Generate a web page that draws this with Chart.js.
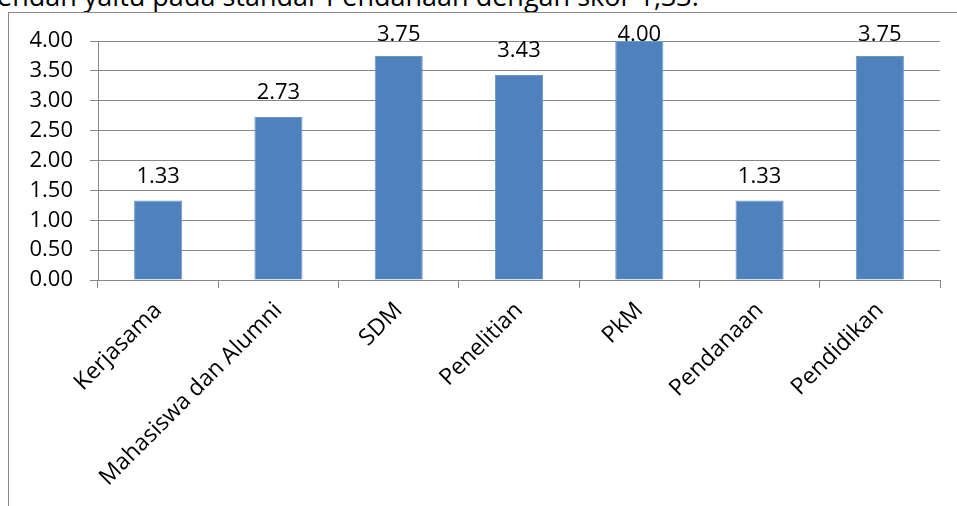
<!DOCTYPE html>
<html>
<head>
<meta charset="utf-8">
<script src="https://cdn.jsdelivr.net/npm/chart.js@4/dist/chart.umd.min.js"></script>
<style>
  html, body { margin: 0; padding: 0; background: #fff; overflow: hidden; }
  body { width: 957px; height: 506px; position: relative; }
  #caption {
    position: absolute; left: -3px; top: -22px; white-space: nowrap;
    font-family: "Open Sans", sans-serif; font-size: 27px; color: #000; line-height: 36px;
  }
  #frame {
    position: absolute; left: 8px; top: 12px; width: 1000px; height: 600px;
    border-left: 1px solid #898989; border-top: 1px solid #898989;
  }
  #wrap { position: absolute; left: 0; top: 0; width: 957px; height: 506px; }
</style>
</head>
<body>
<div id="caption">endah yaitu pada standar Pendanaan dengan skor 1,33.</div>
<div id="frame"></div>
<div id="wrap"><canvas id="c" width="957" height="506"></canvas></div>
<script>
const categories = ["Kerjasama", "Mahasiswa dan Alumni", "SDM", "Penelitian", "PkM", "Pendanaan", "Pendidikan"];
const scores = [1.33, 2.73, 3.75, 3.43, 4.00, 1.33, 3.75];
const yTicks = [0, 0.5, 1, 1.5, 2, 2.5, 3, 3.5, 4];

const FONT = "'Open Sans', sans-serif";
const GRID = "#878787";

const valueLabels = {
  id: "valueLabels",
  afterDatasetsDraw(chart) {
    const ctx = chart.ctx;
    const meta = chart.getDatasetMeta(0);
    ctx.save();
    ctx.font = "22px " + FONT;
    ctx.fillStyle = "#000";
    ctx.textAlign = "center";
    ctx.textBaseline = "alphabetic";
    meta.data.forEach((bar, i) => {
      const y = Math.max(bar.y - 18, chart.chartArea.top);
      ctx.fillText(scores[i].toFixed(2), bar.x, y);
    });
    ctx.restore();
  }
};

new Chart(document.getElementById("c"), {
  type: "bar",
  data: {
    labels: categories,
    datasets: [{
      data: scores,
      backgroundColor: "#4F81BD",
      borderColor: "#6E97C9",
      borderWidth: 1,
      categoryPercentage: 1.0,
      barPercentage: 0.4
    }]
  },
  options: {
    responsive: false,
    animation: false,
    devicePixelRatio: 1,
    layout: { padding: { top: 41, right: 17, left: 0, bottom: 0 } },
    plugins: { legend: { display: false }, tooltip: { enabled: false } },
    scales: {
      x: {
        afterFit(s) { s.height = 226; },
        grid: { offset: true, drawOnChartArea: false, tickLength: 8, color: GRID, lineWidth: 1 },
        border: { display: true, color: GRID, width: 1 },
        ticks: {
          autoSkip: false, maxRotation: 45, minRotation: 45, padding: 9,
          color: "#000", font: { family: FONT, size: 23 }
        }
      },
      y: {
        min: 0, max: 4,
        afterFit(s) { s.width = 98; },
        afterBuildTicks(s) { s.ticks = yTicks.map(v => ({ value: v })); },
        grid: { color: GRID, lineWidth: 1, tickLength: 8 },
        border: { display: true, color: GRID, width: 1 },
        ticks: {
          padding: 17, color: "#000", font: { family: FONT, size: 22 },
          callback: v => Number(v).toFixed(2)
        }
      }
    }
  },
  plugins: [valueLabels]
});
</script>
</body>
</html>
